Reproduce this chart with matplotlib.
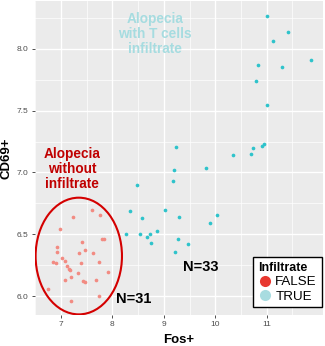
import matplotlib
matplotlib.use("Agg")
import matplotlib.pyplot as plt
from matplotlib.patches import Ellipse
from matplotlib.lines import Line2D

plt.rcParams['font.family'] = ['Liberation Sans', 'DejaVu Sans']

# Fos+ / CD69+ values, infiltrate FALSE
false_x = [7.60, 7.76, 7.23, 6.99, 7.80, 7.83, 7.41, 6.93, 7.46, 6.93, 7.35,
           7.63, 7.01, 6.84, 6.91, 7.07, 7.38, 7.73, 7.12, 7.16, 7.18, 7.91,
           7.34, 7.19, 7.08, 7.43, 7.46, 7.69, 6.75, 7.73, 7.20]
false_y = [6.694, 6.659, 6.640, 6.546, 6.462, 6.460, 6.438, 6.400, 6.373, 6.357, 6.347,
           6.349, 6.312, 6.274, 6.264, 6.280, 6.264, 6.274, 6.240, 6.223, 6.215, 6.196,
           6.188, 6.156, 6.132, 6.119, 6.113, 6.129, 6.059, 6.000, 5.957]

# infiltrate TRUE
true_x = [11.00, 11.42, 11.13, 10.83, 11.30, 11.86, 10.80, 11.01, 10.94, 10.91,
          10.73, 10.69, 10.34, 9.24, 9.19, 9.83, 9.18, 8.48, 8.34, 8.58, 9.03,
          9.30, 10.03, 9.90, 8.26, 8.54, 8.67, 8.73, 8.87, 8.75, 9.28, 9.48, 9.22]
true_y = [8.266, 8.137, 8.062, 7.871, 7.855, 7.906, 7.740, 7.546, 7.228, 7.218,
          7.196, 7.153, 7.140, 7.210, 7.022, 7.035, 6.930, 6.895, 6.686, 6.635, 6.694,
          6.643, 6.653, 6.591, 6.500, 6.505, 6.480, 6.500, 6.527, 6.427, 6.465, 6.419, 6.357]

fig = plt.figure(figsize=(3.25, 3.46), dpi=100)
ax = fig.add_axes([35 / 325, 31 / 346, 288 / 325, 314 / 346])
ax.set_facecolor('#EBEBEB')
for s in ax.spines.values():
    s.set_visible(False)

ax.set_xlim(6.494, 12.097)
ax.set_ylim(5.847, 8.387)
ax.set_xticks([7, 8, 9, 10, 11])
ax.set_yticks([6.0, 6.5, 7.0, 7.5, 8.0])
ax.set_yticklabels(['6.0', '6.5', '7.0', '7.5', '8.0'])
ax.set_xticks([6.5, 7.5, 8.5, 9.5, 10.5, 11.5], minor=True)
ax.set_yticks([6.25, 6.75, 7.25, 7.75, 8.25], minor=True)
ax.grid(True, which='major', color='white', linewidth=1.0)
ax.grid(True, which='minor', color='white', linewidth=0.5)
ax.set_axisbelow(True)
ax.tick_params(which='major', length=2.5, width=0.6, color='#333333',
               labelsize=6, labelcolor='#4D4D4D', pad=2)
ax.tick_params(which='minor', length=0)

ax.scatter(false_x, false_y, s=7, color='#F28B82', linewidths=0, zorder=3)
ax.scatter(true_x, true_y, s=7, color='#2EC3CB', linewidths=0, zorder=3)

ax.add_patch(Ellipse((7.346, 6.324), 1.68, 0.944, fill=False,
                     edgecolor='#D40000', linewidth=1.5, zorder=4))

ax.text(7.21, 7.03, 'Alopecia\nwithout\ninfiltrate', color='#C00000',
        fontsize=9.8, fontweight='bold', ha='center', va='center',
        linespacing=1.1)
ax.text(8.83, 8.12, 'Alopecia\nwith T cells\ninfiltrate', color='#A6DCE0',
        fontsize=9.8, fontweight='bold', ha='center', va='center',
        linespacing=1.1)
ax.text(8.42, 5.976, 'N=31', fontsize=10.5, fontweight='bold', ha='center', va='center')
ax.text(9.72, 6.234, 'N=33', fontsize=10.5, fontweight='bold', ha='center', va='center')

ax.set_xlabel('Fos+', fontsize=9.5, fontweight='bold', labelpad=4)
ax.set_ylabel('CD69+', fontsize=9.5, fontweight='bold', labelpad=3)

handles = [Line2D([], [], marker='o', linestyle='', markersize=8,
                  markerfacecolor='#E8372F', markeredgewidth=0),
           Line2D([], [], marker='o', linestyle='', markersize=8,
                  markerfacecolor='#A8DCE0', markeredgewidth=0)]
leg = ax.legend(handles, ['FALSE', 'TRUE'], title='Infiltrate',
                loc='lower right', bbox_to_anchor=(1.0, 0.02),
                fontsize=9.6, title_fontsize=8.9, frameon=True,
                fancybox=False, edgecolor='black', framealpha=1,
                handletextpad=0.3, borderpad=0.35, labelspacing=0.15,
                handlelength=1.0, borderaxespad=0.1)
leg.get_title().set_fontweight('bold')
leg._legend_box.align = 'left'
leg.get_frame().set_linewidth(1.0)
leg.get_frame().set_facecolor('white')

fig.savefig('out.png', dpi=100)
